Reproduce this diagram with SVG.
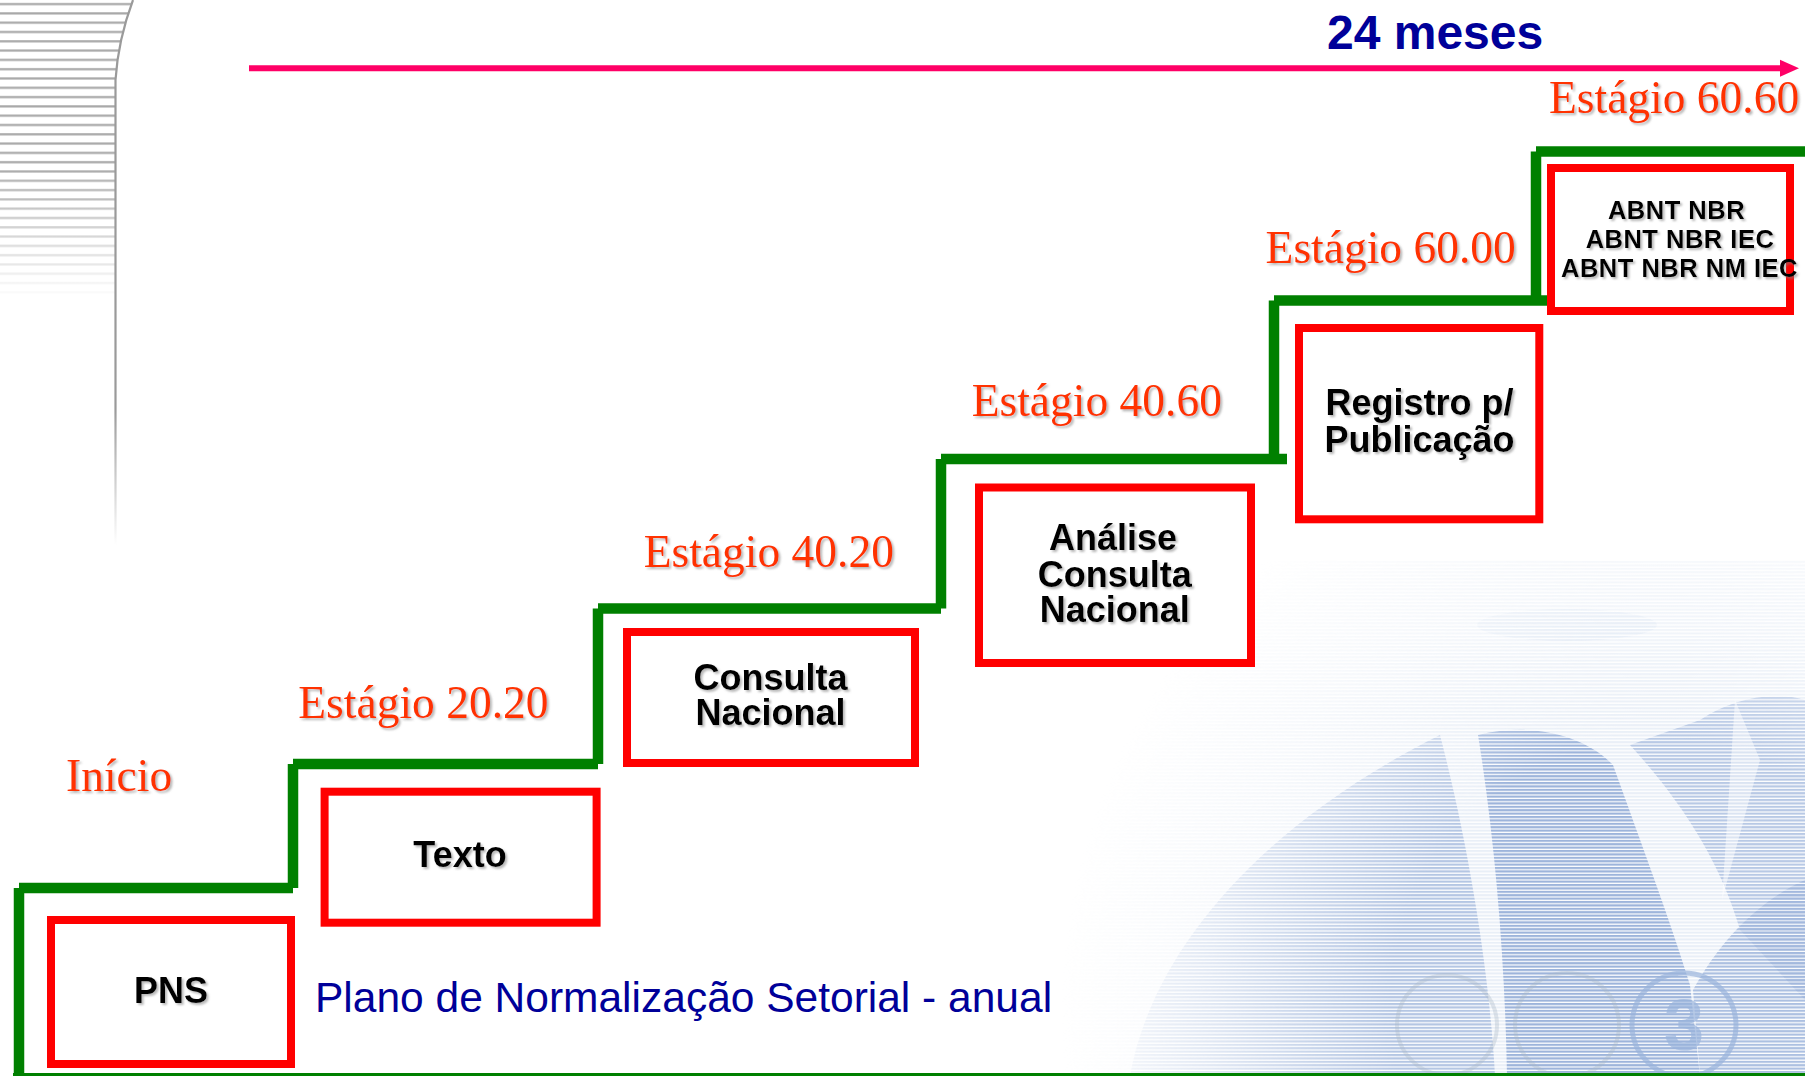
<svg xmlns="http://www.w3.org/2000/svg" width="1805" height="1076" viewBox="0 0 1805 1076">
<style>
.stage{font-family:"Liberation Serif","Times New Roman",serif;font-size:45.5px;fill:#ff3300;filter:url(#sh)}
.box{fill:#ffffff;stroke:#ff0000;stroke-width:8}
.lbl{font-family:"Liberation Sans",Arial,sans-serif;font-weight:bold;font-size:36px;fill:#000000;text-anchor:middle;filter:url(#sh)}
.small{font-size:25.5px;letter-spacing:0.5px}
.step{stroke:#008000;stroke-width:10.5;stroke-linecap:butt;fill:none}
.blue{font-family:"Liberation Sans",Arial,sans-serif;fill:#000099}
</style>
<defs>
<filter id="sh" x="-5%" y="-15%" width="115%" height="140%">
<feDropShadow dx="2" dy="2" stdDeviation="0.8" flood-color="#808080" flood-opacity="0.55"/>
</filter>
<marker id="arr" markerUnits="userSpaceOnUse" markerWidth="20" markerHeight="20" refX="0" refY="9" orient="auto">
<polygon points="0,0.5 19,9 0,17.5" fill="#ff0066"/>
</marker>
<pattern id="gstripe" width="10" height="9.3" patternUnits="userSpaceOnUse">
<rect y="3" width="10" height="2.2" fill="#a8a8a8"/>
</pattern>
<pattern id="bstripe" width="10" height="3.4" patternUnits="userSpaceOnUse">
<rect width="10" height="2.1" fill="#9db4db"/>
</pattern>
<pattern id="lstripe" width="10" height="3.4" patternUnits="userSpaceOnUse">
<rect width="10" height="2.1" fill="#cfdcee"/>
</pattern>
<linearGradient id="gfadeV" x1="0" y1="0" x2="0" y2="1">
<stop offset="0" stop-color="#fff"/>
<stop offset="0.55" stop-color="#fff"/>
<stop offset="1" stop-color="#000"/>
</linearGradient>
<linearGradient id="vline" x1="0" y1="0" x2="0" y2="1">
<stop offset="0" stop-color="#9a9a9a"/>
<stop offset="0.75" stop-color="#9a9a9a"/>
<stop offset="1" stop-color="#ffffff"/>
</linearGradient>
<mask id="gmask" maskUnits="userSpaceOnUse" x="0" y="0" width="140" height="300">
<rect x="0" y="0" width="140" height="300" fill="url(#gfadeV)"/>
</mask>
<radialGradient id="wfade" gradientUnits="userSpaceOnUse" cx="1660" cy="1010" r="600">
<stop offset="0" stop-color="#fff"/>
<stop offset="0.45" stop-color="#fff"/>
<stop offset="0.75" stop-color="#666"/>
<stop offset="1" stop-color="#000"/>
</radialGradient>
<mask id="wmask" maskUnits="userSpaceOnUse" x="900" y="500" width="905" height="576">
<rect x="900" y="500" width="905" height="576" fill="url(#wfade)"/>
</mask>
</defs>

<rect width="1805" height="1076" fill="#ffffff"/>

<g id="background-top-left">
<path d="M0,0 H133 Q118,40 115.5,80 V300 H0 Z" fill="url(#gstripe)" mask="url(#gmask)"/>
<path d="M133,0 Q118,40 115.5,80 V545" stroke="url(#vline)" stroke-width="2.2" fill="none"/>
</g>

<g id="background-watermark" mask="url(#wmask)">
<rect x="900" y="560" width="905" height="516" fill="url(#lstripe)" opacity="0.45"/>
<ellipse cx="1567" cy="625" rx="90" ry="16" fill="url(#lstripe)" opacity="0.5"/>
<path d="M1130,1076 C1150,960 1250,830 1440,735 C1470,850 1490,980 1495,1076 Z" fill="url(#bstripe)" opacity="0.7"/>
<path d="M1478,735 C1540,720 1590,740 1613,765 C1640,840 1670,920 1690,985 L1700,1076 H1507 C1505,960 1495,840 1478,735 Z" fill="url(#bstripe)"/>
<path d="M1630,745 C1680,800 1720,860 1740,930 L1805,1000 V700 C1770,690 1730,700 1700,720 Z" fill="url(#bstripe)" opacity="0.65"/>
<path d="M1700,1076 L1693,990 C1720,940 1760,900 1805,880 V1076 Z" fill="url(#bstripe)" opacity="0.8"/>
<path d="M1735,700 L1722,900 L1760,760 Z" fill="#ffffff" opacity="0.5"/>
<circle cx="1447" cy="1025" r="50" fill="none" stroke="#a9b8c6" stroke-width="4" opacity="0.35"/>
<circle cx="1567" cy="1025" r="52" fill="none" stroke="#a9b8c6" stroke-width="4" opacity="0.35"/>
<circle cx="1684" cy="1025" r="52" fill="none" stroke="#9ab4dc" stroke-width="5" opacity="0.7"/>
<text x="1684" y="1050" font-family="Liberation Sans, Arial, sans-serif" font-weight="bold" font-size="72" text-anchor="middle" fill="#9ab4dc" opacity="0.7">3</text>
</g>

<g id="connectors">
<line x1="249" y1="68.3" x2="1780" y2="68.3" stroke="#ff0066" stroke-width="6" marker-end="url(#arr)"/>
<rect x="13" y="1073" width="1792" height="3" fill="#008000"/>
<g id="staircase">
<line class="step" x1="19" y1="888" x2="19" y2="1076"/>
<line class="step" x1="19" y1="888" x2="293" y2="888"/>
<line class="step" x1="293" y1="888" x2="293" y2="764"/>
<line class="step" x1="293" y1="764" x2="598" y2="764"/>
<line class="step" x1="598" y1="764" x2="598" y2="608.5"/>
<line class="step" x1="598" y1="608.5" x2="941" y2="608.5"/>
<line class="step" x1="941" y1="608.5" x2="941" y2="459"/>
<line class="step" x1="941" y1="459" x2="1287" y2="459"/>
<line class="step" x1="1274" y1="459" x2="1274" y2="300.5"/>
<line class="step" x1="1274" y1="300.5" x2="1547" y2="300.5"/>
<line class="step" x1="1536" y1="300.5" x2="1536" y2="151.5"/>
<line class="step" x1="1536" y1="151.5" x2="1805" y2="151.5"/>
</g>
</g>

<g id="title">
<text class="blue" x="1327" y="49.3" font-size="48" font-weight="bold">24 meses</text>
</g>

<g id="label-inicio"><text class="stage" x="66" y="790.7" font-size="46">Início</text></g>
<g id="label-2020"><text class="stage" x="298.3" y="718.3">Estágio 20.20</text></g>
<g id="label-4020"><text class="stage" x="643.7" y="566.7">Estágio 40.20</text></g>
<g id="label-4060"><text class="stage" x="971.7" y="415.7">Estágio 40.60</text></g>
<g id="label-6000"><text class="stage" x="1265.6" y="263.3">Estágio 60.00</text></g>
<g id="label-6060"><text class="stage" x="1549" y="113.3">Estágio 60.60</text></g>

<g id="node-pns">
<rect class="box" x="51" y="920" width="240" height="144"/>
<text class="lbl" x="171" y="1003">PNS</text>
</g>
<g id="node-texto">
<rect class="box" x="324.6" y="791.7" width="272" height="131"/>
<text class="lbl" x="460" y="866.7">Texto</text>
</g>
<g id="node-consulta">
<rect class="box" x="627" y="632" width="288" height="131"/>
<text class="lbl" x="770.6" y="690">Consulta</text>
<text class="lbl" x="770.6" y="725">Nacional</text>
</g>
<g id="node-analise">
<rect class="box" x="979" y="487.5" width="272" height="175.5"/>
<text class="lbl" x="1113" y="550">Análise</text>
<text class="lbl" x="1114.7" y="586.7">Consulta</text>
<text class="lbl" x="1114.7" y="621.7">Nacional</text>
</g>
<g id="node-registro">
<rect class="box" x="1299" y="328" width="240.3" height="191.3"/>
<text class="lbl" x="1419.5" y="415">Registro p/</text>
<text class="lbl" x="1419.5" y="451.7">Publicação</text>
</g>
<g id="node-abnt">
<rect class="box" x="1551" y="168" width="239" height="143"/>
<text class="lbl small" x="1676.5" y="219">ABNT NBR</text>
<text class="lbl small" x="1680" y="248.3">ABNT NBR IEC</text>
<text class="lbl small" x="1679.5" y="276.7">ABNT NBR NM IEC</text>
</g>

<g id="caption">
<text class="blue" x="315" y="1011.7" font-size="42.5">Plano de Normalização Setorial - anual</text>
</g>
</svg>
